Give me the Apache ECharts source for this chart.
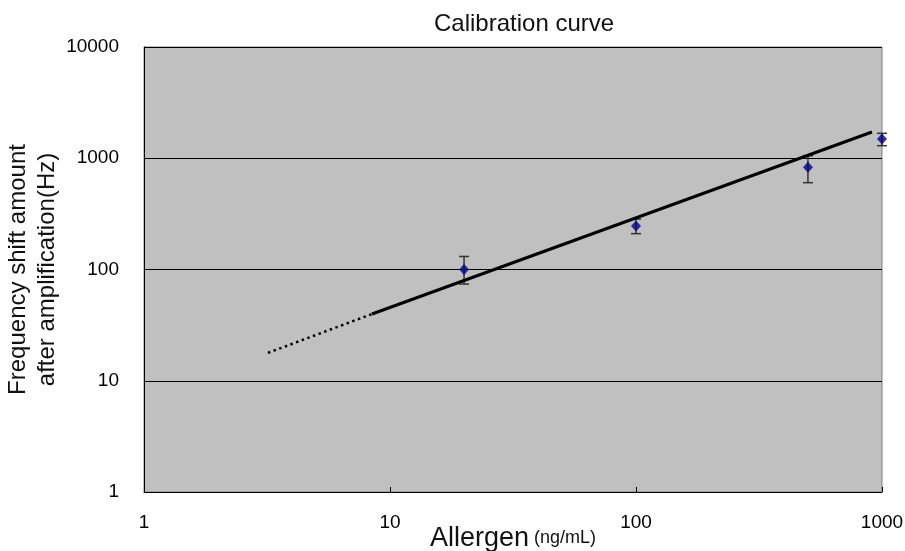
<!DOCTYPE html>
<html>
<head>
<meta charset="utf-8">
<script src="https://cdn.jsdelivr.net/npm/echarts@6/dist/echarts.min.js"></script>
<style>html,body{margin:0;padding:0;background:#fff}#c{width:905px;height:551px}</style>
</head>
<body>
<div id="c"></div>
<script>
// Measured points (Allergen ng/mL vs frequency shift Hz)
const concentration = [20, 100, 500, 1000];
const meanShift = [100, 246, 829, 1489];
const errLow = [74, 210, 603, 1297];
const errHigh = [131, 284, 1054, 1675];
// Calibration fit line (solid) and extrapolation (dotted)
const fitX = [8.45, 910];
const fitY = [39.8, 1722];
const extX = [3.19, 8.45];
const extY = [17.8, 39.8];
const xTicks = [1, 10, 100, 1000];
const yTicks = [1, 10, 100, 1000, 10000];

const FONT = 'Liberation Sans, Arial, sans-serif';
const chart = echarts.init(document.getElementById('c'), null, {renderer: 'canvas'});

const points = concentration.map((c, i) => [c, meanShift[i]]);
const errData = concentration.map((c, i) => [c, errLow[i], errHigh[i]]);
const fitData = fitX.map((x, i) => [x, fitY[i]]);
const extData = extX.map((x, i) => [x, extY[i]]);

chart.setOption({
  animation: false,
  backgroundColor: '#fff',
  title: {
    text: 'Calibration curve',
    left: 429, top: 7,
    textStyle: {fontFamily: FONT, fontSize: 24, fontWeight: 'normal', color: '#111'}
  },
  grid: {
    left: 144, right: 23, top: 47, bottom: 59,
    containLabel: false, outerBoundsMode: 'none',
    show: true, backgroundColor: '#c0c0c0', borderColor: '#808080', borderWidth: 1
  },
  xAxis: {
    type: 'log', logBase: 10, min: 1, max: 1000,
    axisLine: {show: true, lineStyle: {color: '#000', width: 1}},
    axisTick: {show: true, inside: true, length: 5, lineStyle: {color: '#000'}},
    minorTick: {show: false},
    splitLine: {show: false},
    axisLabel: {
      margin: 21, fontFamily: FONT, fontSize: 19, color: '#000',
      formatter: v => (xTicks.indexOf(Math.round(v)) >= 0 ? String(Math.round(v)) : '')
    },
    name: 'Allergen{u|(ng/mL)}',
    nameLocation: 'middle', nameGap: 33, nameMoveOverlap: false,
    nameTextStyle: {
      fontFamily: FONT, fontSize: 27, color: '#111',
      rich: {u: {fontFamily: FONT, fontSize: 18, color: '#111', padding: [0, 0, 0, 5]}}
    }
  },
  yAxis: {
    type: 'log', logBase: 10, min: 1, max: 10000,
    axisLine: {show: true, lineStyle: {color: '#000', width: 1}},
    axisTick: {show: false},
    splitLine: {show: true, lineStyle: {color: '#000', width: 1}},
    axisLabel: {
      margin: 25, fontFamily: FONT, fontSize: 19, color: '#000',
      formatter: v => String(Math.round(v))
    },
    name: 'Frequency shift amount\nafter amplification(Hz)',
    nameLocation: 'middle', nameRotate: 90, nameGap: 82, nameMoveOverlap: false,
    nameTextStyle: {fontFamily: FONT, fontSize: 24, color: '#111', lineHeight: 29}
  },
  series: [
    {
      type: 'custom',
      z: 2,
      data: errData,
      renderItem: function (params, api) {
        const x = api.value(0);
        const lo = api.coord([x, api.value(1)]);
        const hi = api.coord([x, api.value(2)]);
        const w = 5;
        const st = {stroke: '#333', lineWidth: 1.5};
        return {
          type: 'group',
          children: [
            {type: 'line', shape: {x1: lo[0], y1: lo[1], x2: hi[0], y2: hi[1]}, style: st},
            {type: 'line', shape: {x1: lo[0] - w, y1: lo[1], x2: lo[0] + w, y2: lo[1]}, style: st},
            {type: 'line', shape: {x1: hi[0] - w, y1: hi[1], x2: hi[0] + w, y2: hi[1]}, style: st}
          ]
        };
      }
    },
    {
      type: 'line', z: 3, data: fitData, symbol: 'none',
      lineStyle: {color: '#000', width: 3}
    },
    {
      type: 'line', z: 3, data: extData, symbol: 'none',
      lineStyle: {color: '#000', width: 2.5, type: [2.5, 3.5]}
    },
    {
      type: 'scatter', z: 4, data: points, symbol: 'diamond', symbolSize: [10, 11],
      itemStyle: {color: '#00008b'}
    }
  ]
});
</script>
</body>
</html>
